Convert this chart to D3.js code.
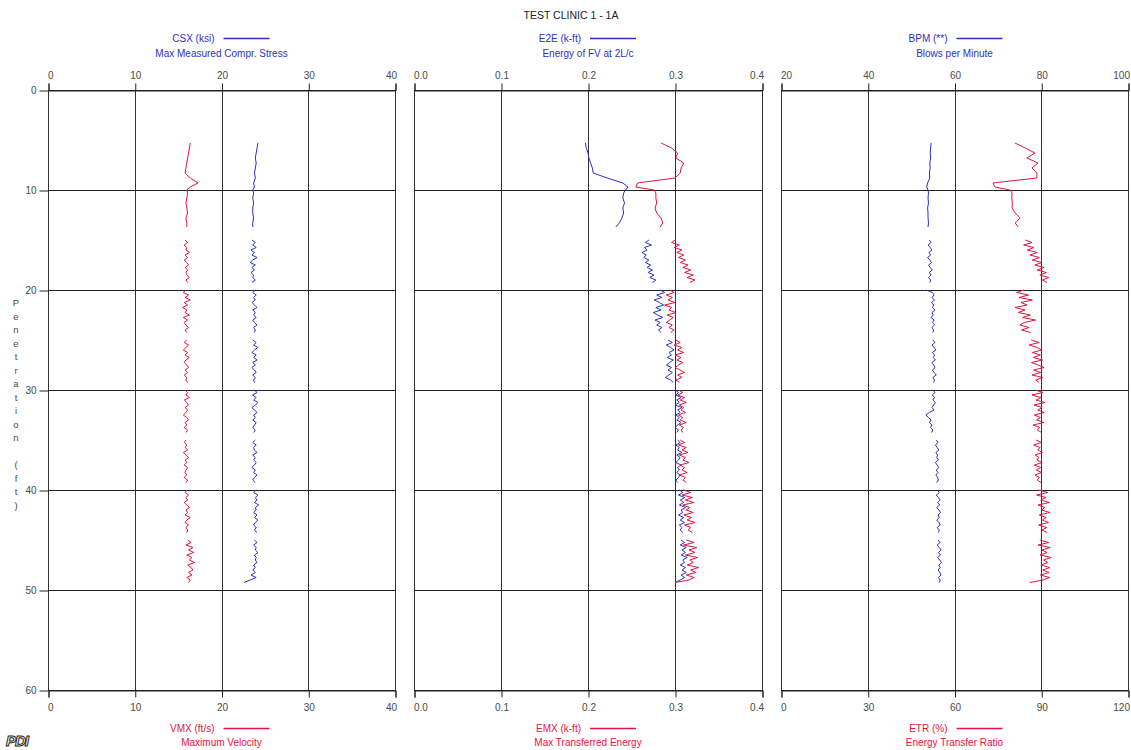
<!DOCTYPE html>
<html>
<head>
<meta charset="utf-8">
<script src="https://cdn.jsdelivr.net/npm/d3@7"></script>
<style>
  html, body { margin: 0; padding: 0; background: #fff; }
  svg { display: block; font-family: "Liberation Sans", Arial, sans-serif; }
</style>
</head>
<body>
<svg id="chart" width="1131" height="750"></svg>
<script>
// ---------------- DATA ----------------
const chartTitle = "TEST CLINIC 1 - 1A";
const yAxisLabel = "Penetration (ft)";
const depthTicks = [0, 10, 20, 30, 40, 50, 60];

// panel tick labels
const csxTicks = [0, 10, 20, 30, 40];
const vmxTicks = [0, 10, 20, 30, 40];
const e2eTicks = [0.0, 0.1, 0.2, 0.3, 0.4];
const emxTicks = [0.0, 0.1, 0.2, 0.3, 0.4];
const bpmTicks = [20, 40, 60, 80, 100];
const etrTicks = [0, 30, 60, 90, 120];

// depth (ft); entries whose series values are null are gaps between records
const depth = [
  5.3,5.8,6.3,6.8,7.3,7.8,8.3,8.8,9.3,9.7,10.0,10.3,10.8,11.3,11.8,12.3,12.8,13.3,13.7,
  14.4,
  15,15.25,15.5,15.75,16,16.25,16.5,16.75,17,17.25,17.5,17.75,18,18.25,18.5,18.75,19,19.25,
  19.6,
  20,20.25,20.5,20.75,21,21.25,21.5,21.75,22,22.25,22.5,22.75,23,23.25,23.5,23.75,24,24.25,
  24.6,
  25,25.25,25.5,25.75,26,26.25,26.5,26.75,27,27.25,27.5,27.75,28,28.25,28.5,28.75,29,29.25,
  29.6,
  30,30.25,30.5,30.75,31,31.25,31.5,31.75,32,32.25,32.5,32.75,33,33.25,33.5,33.75,34,34.25,
  34.6,
  35,35.25,35.5,35.75,36,36.25,36.5,36.75,37,37.25,37.5,37.75,38,38.25,38.5,38.75,39,39.25,
  39.6,
  40,40.25,40.5,40.75,41,41.25,41.5,41.75,42,42.25,42.5,42.75,43,43.25,43.5,43.75,44,44.25,
  44.6,
  45,45.25,45.5,45.75,46,46.25,46.5,46.75,47,47.25,47.5,47.75,48,48.25,48.5,48.75,49,49.25
];

// CSX (ksi) - Max Measured Compr. Stress
const csx = [
  24.2,24.1,24.0,23.9,24.0,23.9,23.8,23.9,23.7,23.8,23.6,23.7,23.6,23.7,23.6,23.6,23.7,23.6,23.6,
  null,
  23.5,23.9,23.6,24.0,23.4,23.8,23.5,24.1,23.6,23.3,23.9,23.5,23.8,23.4,23.7,23.6,23.9,23.5,
  null,
  23.9,23.6,24.0,23.7,23.9,23.5,23.8,24.1,23.6,23.9,23.7,24.0,23.6,23.8,24.1,23.7,23.9,23.8,
  null,
  23.6,24.0,23.7,24.2,23.8,23.5,24.0,23.7,24.1,23.6,23.9,23.5,23.8,24.0,23.6,23.9,23.7,23.8,
  null,
  23.8,24.1,23.6,24.0,23.7,24.2,23.9,23.5,23.8,24.1,23.7,23.9,23.6,24.0,23.8,23.6,23.9,23.7,
  null,
  23.9,23.6,24.0,23.7,23.8,24.1,23.6,23.9,23.7,24.0,23.8,23.5,23.9,23.7,24.1,23.8,23.6,23.9,
  null,
  24.0,23.7,24.2,23.9,24.1,23.8,24.3,23.9,24.0,23.7,24.1,23.8,24.2,23.9,23.7,24.0,23.8,24.1,
  null,
  23.8,24.1,23.7,24.0,23.9,24.2,23.8,24.0,23.9,24.1,23.7,23.9,23.6,23.9,23.4,24.0,23.3,22.6
];

// VMX (ft/s) - Maximum Velocity
const vmx = [
  16.4,16.3,16.2,16.1,16.0,15.9,15.8,16.4,17.3,16.4,16.0,16.1,16.0,15.9,16.0,16.1,15.9,16.0,16.0,
  null,
  15.8,16.1,15.7,16.0,15.9,16.3,15.8,16.1,15.7,16.0,16.2,15.8,16.1,15.9,16.0,16.3,15.9,16.1,
  null,
  15.9,15.6,16.2,15.8,16.4,15.7,16.1,15.5,16.0,15.8,16.3,15.6,16.1,15.7,15.9,16.2,15.8,16.0,
  null,
  16.0,15.7,16.2,15.9,15.6,16.1,15.8,16.3,15.9,15.7,16.0,16.2,15.8,16.1,15.7,16.0,15.9,16.1,
  null,
  15.8,16.1,15.9,16.3,15.7,16.0,16.2,15.8,16.1,15.9,15.6,16.0,16.2,15.8,16.0,15.7,16.1,15.9,
  null,
  15.9,15.7,16.0,15.8,16.1,15.6,15.9,16.2,15.8,16.0,15.7,16.1,15.9,15.8,16.0,15.7,16.1,15.9,
  null,
  16.0,15.8,16.2,15.9,16.1,15.7,16.0,16.3,15.9,16.1,15.8,16.4,16.0,15.8,16.2,15.9,16.1,16.0,
  null,
  16.1,16.5,15.9,16.7,16.2,16.8,16.0,16.6,16.3,16.9,16.1,16.5,16.7,16.2,16.6,16.0,16.4,16.2
];

// E2E (k-ft) - Energy of FV at 2L/c
const e2e = [
  0.197,0.198,0.200,0.201,0.203,0.205,0.206,0.222,0.240,0.246,0.243,0.241,0.240,0.242,0.240,0.241,0.239,0.236,0.232,
  null,
  0.270,0.266,0.273,0.265,0.268,0.262,0.267,0.264,0.270,0.266,0.272,0.268,0.274,0.269,0.276,0.271,0.278,0.274,
  null,
  0.283,0.288,0.279,0.285,0.276,0.282,0.287,0.278,0.284,0.275,0.280,0.286,0.277,0.283,0.279,0.285,0.281,0.284,
  null,
  0.292,0.297,0.290,0.295,0.299,0.293,0.296,0.291,0.298,0.294,0.290,0.296,0.292,0.297,0.293,0.289,0.295,0.298,
  null,
  0.300,0.304,0.301,0.307,0.302,0.305,0.300,0.308,0.303,0.306,0.301,0.305,0.302,0.307,0.303,0.300,0.304,0.302,
  null,
  0.303,0.306,0.301,0.305,0.303,0.308,0.302,0.306,0.304,0.301,0.307,0.303,0.305,0.302,0.306,0.304,0.301,0.303,
  null,
  0.305,0.309,0.304,0.311,0.306,0.310,0.305,0.312,0.307,0.309,0.304,0.310,0.306,0.311,0.305,0.308,0.306,0.309,
  null,
  0.307,0.311,0.306,0.313,0.308,0.312,0.307,0.314,0.309,0.311,0.306,0.312,0.308,0.313,0.307,0.311,0.306,0.300
];

// EMX (k-ft) - Max Transferred Energy
const emx = [
  0.284,0.296,0.303,0.301,0.310,0.307,0.306,0.300,0.257,0.255,0.276,0.278,0.278,0.279,0.277,0.279,0.284,0.286,0.283,
  null,
  0.300,0.296,0.305,0.299,0.308,0.302,0.310,0.304,0.312,0.306,0.315,0.309,0.318,0.311,0.321,0.314,0.323,0.317,
  null,
  0.294,0.299,0.290,0.297,0.292,0.300,0.288,0.296,0.293,0.301,0.291,0.298,0.294,0.290,0.297,0.293,0.299,0.295,
  null,
  0.301,0.306,0.299,0.308,0.303,0.310,0.300,0.307,0.302,0.309,0.304,0.300,0.306,0.311,0.303,0.308,0.301,0.305,
  null,
  0.304,0.309,0.303,0.311,0.306,0.313,0.305,0.310,0.307,0.312,0.304,0.309,0.306,0.313,0.305,0.310,0.307,0.309,
  null,
  0.306,0.311,0.304,0.313,0.308,0.315,0.305,0.312,0.309,0.316,0.306,0.311,0.308,0.314,0.305,0.312,0.309,0.313,
  null,
  0.310,0.318,0.308,0.320,0.312,0.322,0.309,0.317,0.313,0.321,0.310,0.319,0.314,0.323,0.311,0.318,0.315,0.320,
  null,
  0.313,0.322,0.310,0.325,0.316,0.323,0.312,0.326,0.317,0.321,0.314,0.327,0.318,0.324,0.313,0.322,0.316,0.300
];

// BPM (**) - Blows per Minute
const bpm = [
  54.6,54.5,54.4,54.5,54.3,54.4,54.2,54.3,53.8,53.6,53.9,54.0,53.9,54.0,53.8,53.9,53.9,54.0,53.9,
  null,
  54.2,54.6,53.9,54.4,54.8,54.1,54.5,53.8,54.3,54.7,54.0,54.4,54.9,54.2,54.6,54.0,54.5,54.3,
  null,
  53.5,54.9,55.3,54.8,55.4,54.7,55.2,54.9,55.5,54.8,55.1,54.6,55.3,54.9,55.4,54.8,55.2,55.0,
  null,
  55.0,55.5,54.8,55.3,55.7,54.9,55.4,55.1,55.6,54.8,55.2,55.5,54.9,55.3,55.8,55.0,55.4,55.2,
  null,
  55.1,55.5,54.9,55.4,55.0,55.6,55.2,54.8,55.3,54.2,53.4,54.0,54.6,54.2,54.8,54.5,55.0,54.7,
  null,
  55.8,56.2,55.6,56.0,56.4,55.7,56.1,55.9,56.3,55.6,56.0,56.4,55.8,56.2,55.7,56.1,56.3,55.9,
  null,
  56.0,56.5,55.8,56.3,56.7,56.1,56.6,55.9,56.4,56.8,56.2,56.5,55.9,56.4,56.7,56.0,56.5,56.3,
  null,
  56.2,56.7,56.0,56.5,56.9,56.3,56.8,56.1,56.6,57.0,56.4,56.7,56.2,56.6,56.9,56.3,56.7,56.5
];

// ETR (%) - Energy Transfer Ratio
const etr = [
  80.9,84.5,87.8,85.0,88.9,86.8,88.5,88.5,73.3,74.0,79.2,79.9,79.8,80.0,79.9,81.0,82.7,81.0,82.0,
  null,
  84.5,86.8,83.9,87.5,85.2,88.6,86.1,89.4,86.9,90.2,87.8,91.0,88.6,91.8,89.5,92.6,90.3,92.0,
  null,
  84.0,81.5,85.6,82.3,86.9,83.0,85.1,80.9,84.4,82.0,86.2,83.5,88.0,84.1,82.6,85.8,83.2,86.4,
  null,
  86.5,89.3,85.8,88.6,90.1,86.9,89.7,87.2,90.4,86.6,88.9,91.0,87.4,89.8,86.8,90.5,88.1,89.3,
  null,
  87.9,90.6,86.8,89.9,88.2,91.2,87.5,90.3,88.8,91.0,87.6,89.7,88.4,90.9,87.2,89.5,88.6,90.1,
  null,
  88.2,90.0,87.4,89.6,88.8,90.4,87.9,89.2,88.5,90.3,87.6,89.8,88.3,90.1,87.8,89.4,88.6,89.9,
  null,
  89.0,92.3,88.4,91.6,89.8,92.8,88.9,91.2,90.1,93.0,89.3,91.7,90.4,92.5,89.1,91.9,90.2,92.1,
  null,
  89.5,92.6,88.9,93.1,90.2,92.0,89.6,93.4,90.8,92.3,89.9,93.0,90.5,92.7,89.7,92.9,90.6,86.0
];

// ---------------- DRAWING ----------------
const BLUE = "#2f2fc4";
const RED = "#e3143f";
const TXT = "#4a4a4a";

const svg = d3.select("#chart");
const yTop = 90, yBot = 690;
const y = d3.scaleLinear().domain([0, 60]).range([yTop, yBot]);

const panels = [
  { x0: 48, x1: 395, top: { domain: [0, 40], ticks: csxTicks, fmt: d3.format("d"), name: "CSX (ksi)", desc: "Max Measured Compr. Stress", data: csx, color: BLUE },
    bot: { domain: [0, 40], ticks: vmxTicks, fmt: d3.format("d"), name: "VMX (ft/s)", desc: "Maximum Velocity", data: vmx, color: RED } },
  { x0: 414, x1: 762, top: { domain: [0, 0.4], ticks: e2eTicks, fmt: d3.format(".1f"), name: "E2E (k-ft)", desc: "Energy of FV at 2L/c", data: e2e, color: BLUE },
    bot: { domain: [0, 0.4], ticks: emxTicks, fmt: d3.format(".1f"), name: "EMX (k-ft)", desc: "Max Transferred Energy", data: emx, color: RED } },
  { x0: 781, x1: 1128, top: { domain: [20, 100], ticks: bpmTicks, fmt: d3.format("d"), name: "BPM (**)", desc: "Blows per Minute", data: bpm, color: BLUE },
    bot: { domain: [0, 120], ticks: etrTicks, fmt: d3.format("d"), name: "ETR (%)", desc: "Energy Transfer Ratio", data: etr, color: RED } }
];

// title
svg.append("text").attr("x", 571).attr("y", 19).attr("text-anchor", "middle")
  .attr("font-size", 10.5).attr("fill", "#222").text(chartTitle);

panels.forEach(p => {
  const xt = d3.scaleLinear().domain(p.top.domain).range([p.x0, p.x1]);
  const xb = d3.scaleLinear().domain(p.bot.domain).range([p.x0, p.x1]);
  const g = svg.append("g");

  // grid lines
  g.selectAll("line.v").data(p.top.ticks).join("line")
    .attr("x1", d => Math.round(xt(d)) + 0.5).attr("x2", d => Math.round(xt(d)) + 0.5)
    .attr("y1", yTop).attr("y2", yBot).attr("stroke", "#333").attr("stroke-width", 1);
  g.selectAll("line.h").data(depthTicks).join("line")
    .attr("x1", p.x0).attr("x2", p.x1 + 1)
    .attr("y1", d => Math.round(y(d)) + 0.5).attr("y2", d => Math.round(y(d)) + 0.5)
    .attr("stroke", "#222").attr("stroke-width", 1);

  // top axis
  const ta = g.append("g").attr("transform", `translate(0.5,${yTop + 0.5})`)
    .call(d3.axisTop(xt).tickValues(p.top.ticks).tickFormat(p.top.fmt).tickSize(7).tickPadding(5));
  // bottom axis
  const ba = g.append("g").attr("transform", `translate(0.5,${yBot + 0.5})`)
    .call(d3.axisBottom(xb).tickValues(p.bot.ticks).tickFormat(p.bot.fmt).tickSize(7).tickPadding(6));
  [ta, ba].forEach(a => {
    a.select(".domain").attr("stroke", "#222");
    a.selectAll(".tick line").attr("stroke", "#222");
    const txt = a.selectAll(".tick text").attr("fill", TXT).attr("font-size", 10)
      .attr("font-family", "'Liberation Sans', Arial, sans-serif");
    const n = txt.size();
    txt.attr("text-anchor", (d, i) => i === 0 ? "start" : (i === n - 1 ? "end" : "middle"))
       .attr("dx", (d, i) => i === 0 ? -1 : (i === n - 1 ? 1 : 0));
  });

  // series
  const lineT = d3.line().defined((d, i) => p.top.data[i] != null)
    .x((d, i) => xt(p.top.data[i])).y(d => y(d));
  const lineB = d3.line().defined((d, i) => p.bot.data[i] != null)
    .x((d, i) => xb(p.bot.data[i])).y(d => y(d));
  g.append("path").datum(depth).attr("d", lineT).attr("fill", "none")
    .attr("stroke", p.top.color).attr("stroke-width", 1);
  g.append("path").datum(depth).attr("d", lineB).attr("fill", "none")
    .attr("stroke", p.bot.color).attr("stroke-width", 1);

  // headers
  const cx = (p.x0 + p.x1) / 2;
  svg.append("text").attr("x", cx - 7).attr("y", 42).attr("text-anchor", "end")
    .attr("font-size", 10).attr("fill", BLUE).text(p.top.name);
  svg.append("line").attr("x1", cx + 2).attr("x2", cx + 48).attr("y1", 38.5).attr("y2", 38.5)
    .attr("stroke", BLUE).attr("stroke-width", 1.3);
  svg.append("text").attr("x", cx).attr("y", 57).attr("text-anchor", "middle")
    .attr("font-size", 10).attr("fill", BLUE).text(p.top.desc);

  svg.append("text").attr("x", cx - 7).attr("y", 732).attr("text-anchor", "end")
    .attr("font-size", 10).attr("fill", RED).text(p.bot.name);
  svg.append("line").attr("x1", cx + 2).attr("x2", cx + 48).attr("y1", 728.5).attr("y2", 728.5)
    .attr("stroke", RED).attr("stroke-width", 1.3);
  svg.append("text").attr("x", cx).attr("y", 746).attr("text-anchor", "middle")
    .attr("font-size", 10).attr("fill", RED).text(p.bot.desc);
});

// left depth axis
const la = svg.append("g").attr("transform", `translate(48.5,0.5)`)
  .call(d3.axisLeft(y).tickValues(depthTicks).tickFormat(d3.format("d")).tickSize(9).tickPadding(3));
la.select(".domain").remove();
la.selectAll(".tick line").attr("stroke", "#222");
la.selectAll(".tick text").attr("fill", TXT).attr("font-size", 10)
  .attr("font-family", "'Liberation Sans', Arial, sans-serif");

// vertical stacked axis label
const chars = yAxisLabel.split("");
svg.append("g").selectAll("text").data(chars).join("text")
  .attr("x", 16).attr("y", (d, i) => 306 + i * 13.5)
  .attr("text-anchor", "middle").attr("font-size", 9.5).attr("fill", TXT)
  .text(d => d);

// logo
svg.append("text").attr("x", 6).attr("y", 746)
  .attr("font-size", 15).attr("font-style", "italic").attr("font-weight", "bold")
  .attr("fill", "#fff").attr("stroke", "#222").attr("stroke-width", 1)
  .attr("letter-spacing", -1).text("PDI");
</script>
</body>
</html>
